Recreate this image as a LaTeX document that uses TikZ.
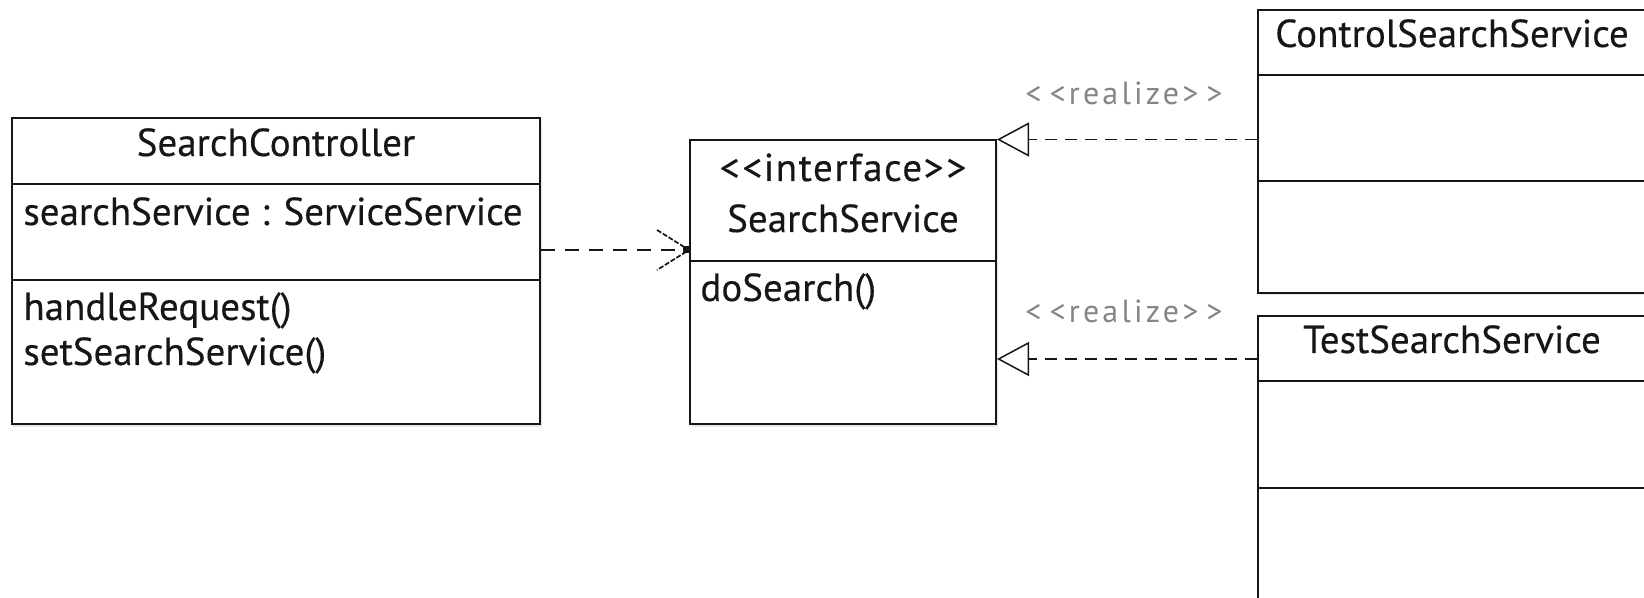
\documentclass[tikz,border=0pt]{standalone}
\usepackage{fontspec}
\setmainfont{PT Sans}
\newfontfamily\umlfont[FakeBold=0.35]{PT Sans}
\newfontfamily\umlwidefont[FakeBold=0.35,LetterSpace=4]{PT Sans}
\newfontfamily\stereofont[LetterSpace=10]{PT Sans}
\usetikzlibrary{fit,arrows.meta,shadows}

\definecolor{ink}{HTML}{161616}
\definecolor{stereogray}{HTML}{858585}

\begin{document}
\begin{tikzpicture}[x=0.5pt,y=-0.5pt,
  umlclass/.style={draw=ink, line width=1pt, fill=white, inner sep=0pt,
    drop shadow={shadow xshift=0.8pt, shadow yshift=-1.2pt, opacity=0.18}},
  sepline/.style={draw=ink, line width=1pt},
  classname/.style={anchor=base, inner sep=0pt, text=ink, font=\umlfont\fontsize{19.5}{22}\selectfont},
  stereoname/.style={anchor=base, inner sep=0pt, text=ink, font=\umlwidefont\fontsize{19.5}{22}\selectfont},
  member/.style={anchor=base west, inner sep=0pt, text=ink, font=\umlfont\fontsize{19.5}{22}\selectfont},
  stereolabel/.style={anchor=base, inner sep=0pt, text=stereogray, font=\stereofont\fontsize{16}{19}\selectfont},
  depline/.style={draw=ink, line width=0.75pt, dash pattern=on 7pt off 5pt},
  deparm/.style={draw=ink, line width=0.85pt, dash pattern=on 2.5pt off 0.9pt},
  realline/.style={draw=ink, line width=0.7pt, dash pattern=on 6pt off 4pt,
    -{Triangle[open, length=16pt, width=17pt, line width=0.75pt, fill=white]}}
]
\useasboundingbox (0,0) rectangle (1644,598);
\clip (0,0) rectangle (1644,598);

% SearchController
\node[umlclass, fit={(11.5,118.5) (540,424.5)}] (sc) {};
\draw[sepline] (sc.west |- 0,184) -- (sc.east |- 0,184);
\draw[sepline] (sc.west |- 0,280) -- (sc.east |- 0,280);
\node[classname] (scname) at (276,156) {SearchController};
\node[member] (scattr) at (23,225) {searchService : ServiceService};
\node[member] (scop1) at (23,320) {handleRequest()};
\node[member] (scop2) at (23,365) {setSearchService()};

% SearchService interface
\node[umlclass, fit={(690,140.5) (996,424.5)}] (ss) {};
\draw[sepline] (ss.west |- 0,261) -- (ss.east |- 0,261);
\node[stereoname] (ssstereo) at (843,181) {<\hspace{1.5pt}<interface>\hspace{1.5pt}>};
\node[classname] (ssname) at (843,232) {SearchService};
\node[member] (ssop1) at (700,301) {doSearch()};

% ControlSearchService
\node[umlclass, fit={(1258,10) (1648,293)}] (css) {};
\draw[sepline] (css.west |- 0,75) -- (css.east |- 0,75);
\draw[sepline] (css.west |- 0,181.5) -- (css.east |- 0,181.5);
\node[classname] (cssname) at (1452,47) {ControlSearchService};

% TestSearchService
\node[umlclass, fit={(1258,316) (1648,640)}] (tss) {};
\draw[sepline] (tss.west |- 0,381) -- (tss.east |- 0,381);
\draw[sepline] (tss.west |- 0,488) -- (tss.east |- 0,488);
\node[classname] (tssname) at (1452,353) {TestSearchService};

% dependency: SearchController uses SearchService
\coordinate (depy) at (0,250);
\draw[depline] (sc.east |- depy) -- (ss.west |- depy);
\draw[deparm] (ss.west |- depy) ++(-32,-20) -- (ss.west |- depy) -- ++(-32,20);
\fill[ink] (ss.west |- depy) ++(-6,-3.5) rectangle ++(6,7);

% realizations
\coordinate (real2y) at (0,359);
\draw[realline] (css.west |- ss.north) -- (ss.north east);
\draw[realline] (tss.west |- real2y) -- (ss.east |- real2y);

\node[stereolabel] (rl1) at (1124,105) {<\hspace{4pt}<realize>\hspace{4pt}>};
\node[stereolabel] (rl2) at (1124,323) {<\hspace{4pt}<realize>\hspace{4pt}>};
\end{tikzpicture}
\end{document}
